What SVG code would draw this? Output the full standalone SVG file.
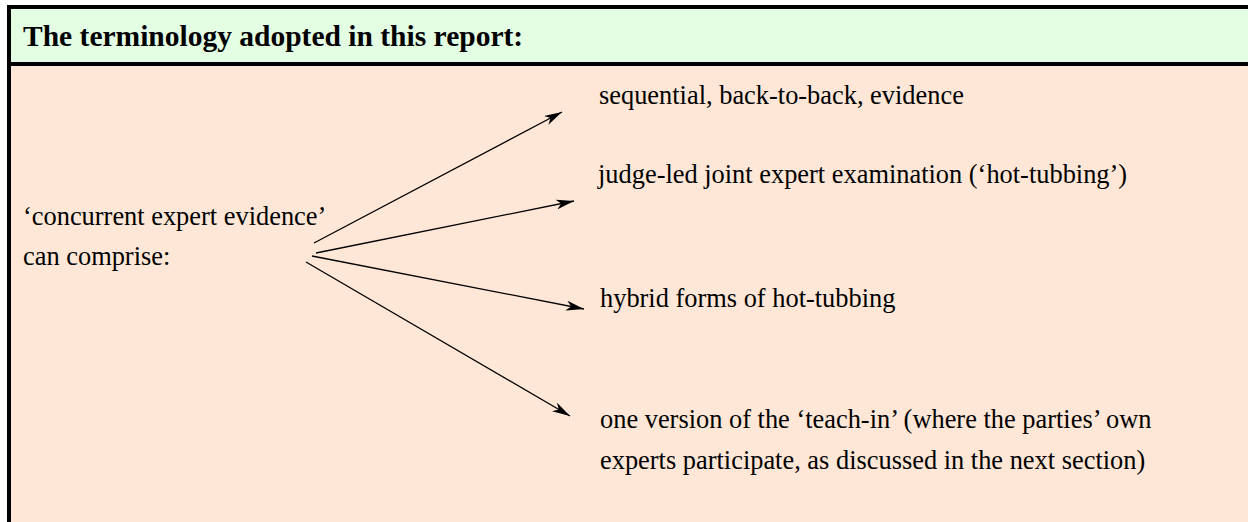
<svg xmlns="http://www.w3.org/2000/svg" width="1248" height="522" viewBox="0 0 1248 522">
  <style>
    .hdr { font-family: "Liberation Serif", "Times New Roman", serif; font-weight: bold; font-size: 29.5px; fill: #000; }
    .txt { font-family: "Liberation Serif", "Times New Roman", serif; font-size: 26.4px; fill: #000; }
    .conn { stroke: #000; stroke-width: 1.3; fill: none; marker-end: url(#arrow); }
  </style>
  <defs>
    <marker id="arrow" viewBox="0 0 18 10" refX="18" refY="5" markerWidth="18" markerHeight="10" markerUnits="userSpaceOnUse" orient="auto">
      <path d="M0,0 L18,5 L0,10 L5,5 z" fill="#000"/>
    </marker>
  </defs>
  <rect x="0" y="0" width="1248" height="522" fill="#ffffff"/>
  <g id="header">
    <rect x="9" y="7" width="1239" height="57" fill="#E4FEE4"/>
    <text class="hdr" x="23" y="46">The terminology adopted in this report:</text>
  </g>
  <g id="body">
    <rect x="9" y="64" width="1239" height="458" fill="#FEE7D6"/>
  </g>
  <g id="frame">
    <rect x="7" y="5" width="1241" height="4" fill="#000"/>
    <rect x="7" y="62" width="1241" height="4" fill="#000"/>
    <rect x="7" y="5" width="4" height="517" fill="#000"/>
  </g>
  <g id="source">
    <text class="txt" x="23" y="225">‘concurrent expert evidence’</text>
    <text class="txt" x="23" y="265">can comprise:</text>
  </g>
  <g id="item1">
    <text class="txt" x="599" y="104">sequential, back-to-back, evidence</text>
  </g>
  <g id="item2">
    <text class="txt" x="598" y="183">judge-led joint expert examination (‘hot-tubbing’)</text>
  </g>
  <g id="item3">
    <text class="txt" x="600" y="307">hybrid forms of hot-tubbing</text>
  </g>
  <g id="item4">
    <text class="txt" x="600" y="428">one version of the ‘teach-in’ (where the parties’ own</text>
    <text class="txt" x="600" y="469">experts participate, as discussed in the next section)</text>
  </g>
  <g id="connectors">
    <line class="conn" x1="314" y1="243" x2="562" y2="112"/>
    <line class="conn" x1="316" y1="253" x2="574" y2="201"/>
    <line class="conn" x1="312" y1="256" x2="584" y2="309"/>
    <line class="conn" x1="306" y1="262" x2="570" y2="416"/>
  </g>
</svg>
